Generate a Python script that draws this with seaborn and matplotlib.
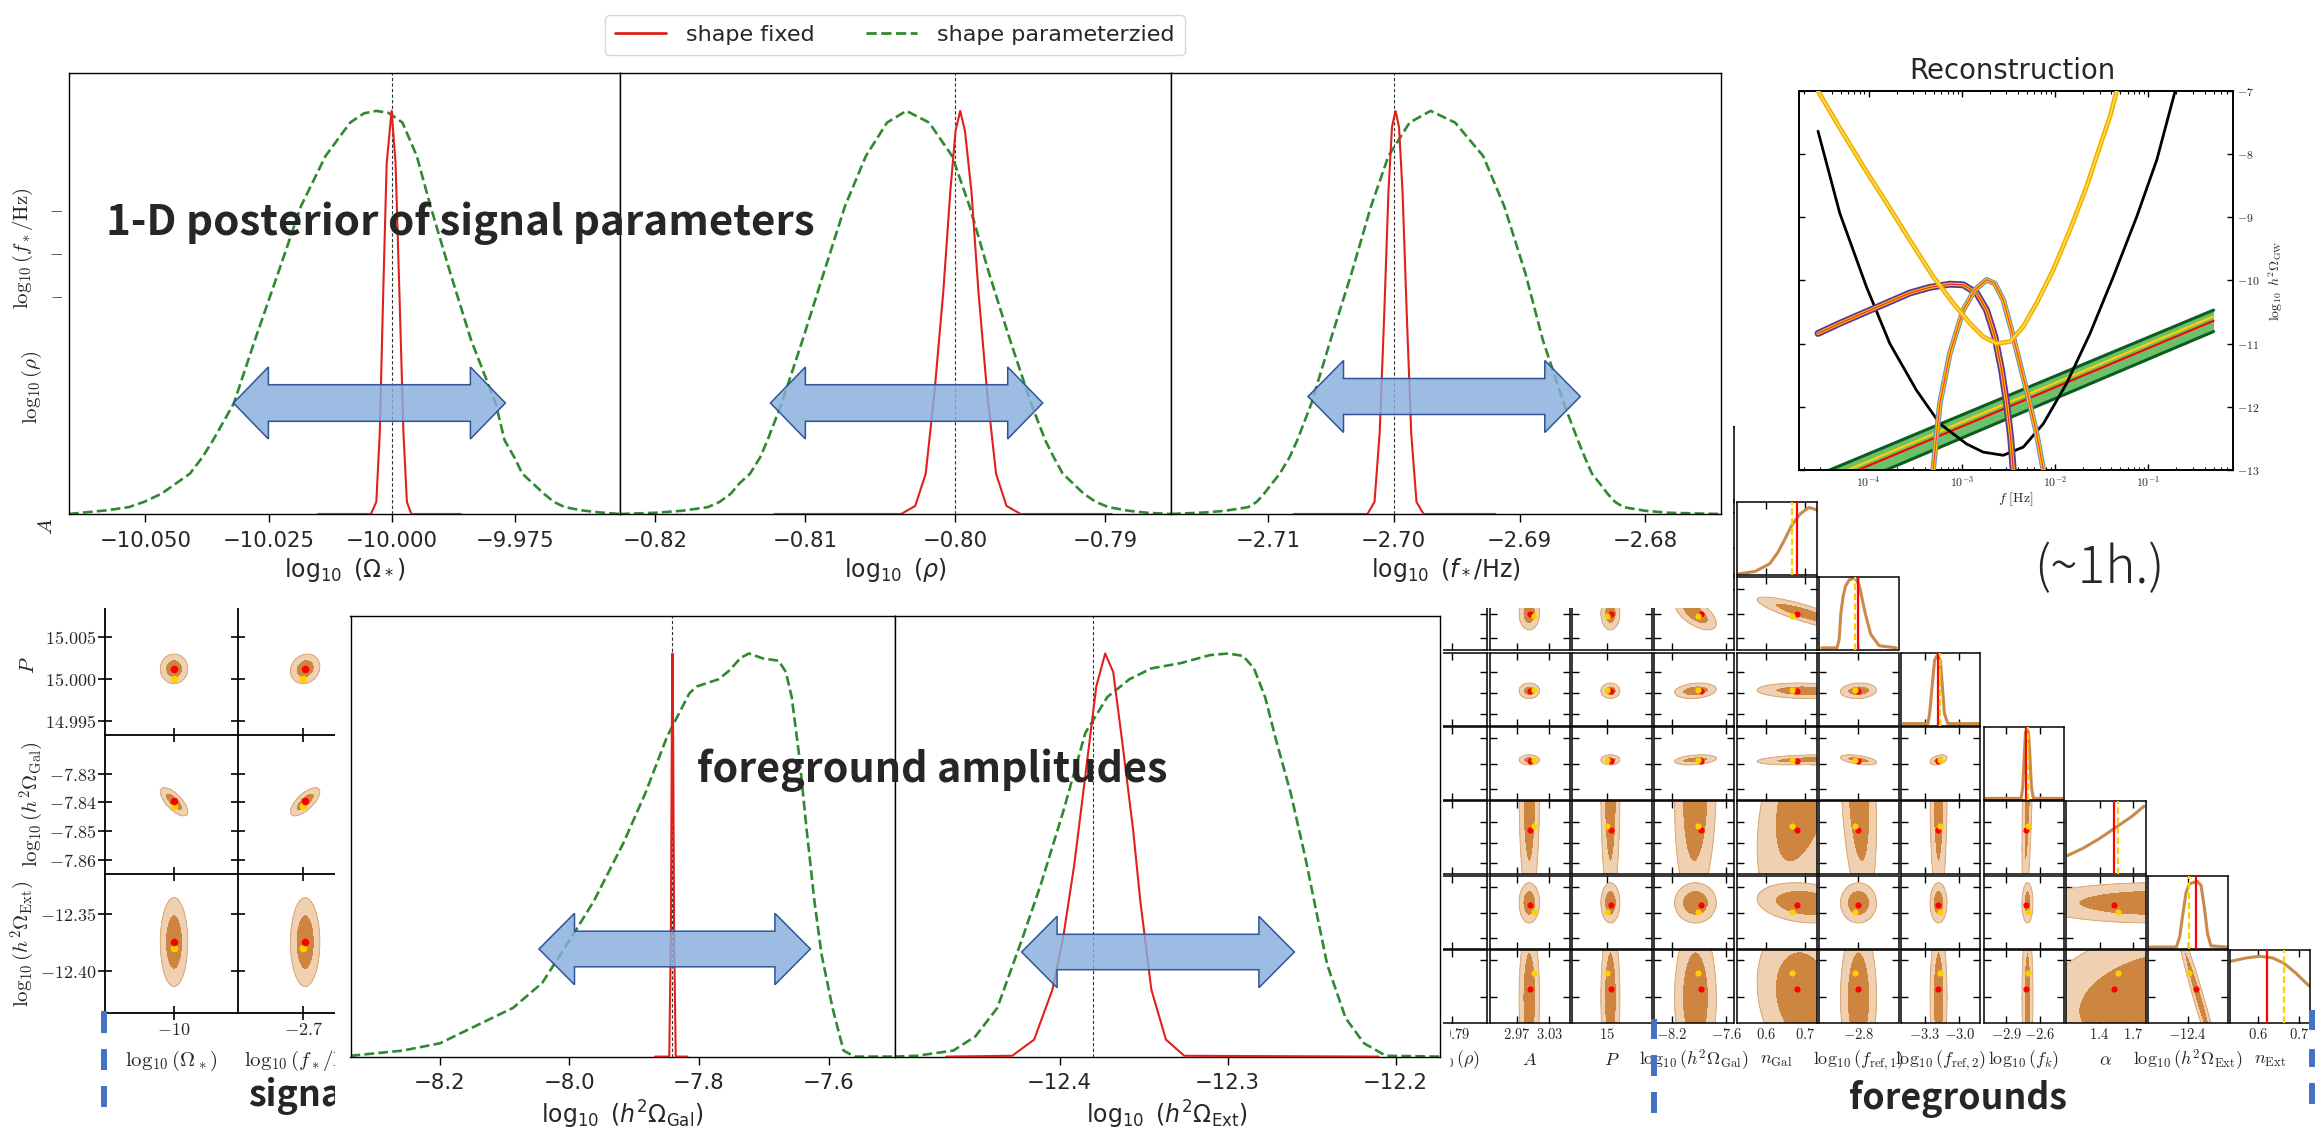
import numpy as np
import matplotlib
matplotlib.use("Agg")
import matplotlib.pyplot as plt
import seaborn as sns
from matplotlib.patches import Rectangle, Polygon
from matplotlib.lines import Line2D
from matplotlib.ticker import LogLocator, FuncFormatter, NullFormatter

# ============================ DATA ============================
# ---- top row: 1-D posteriors of the signal parameters (peak normalised) ----
omega_ticks = [-10.050, -10.025, -10.000, -9.975]
omega_xlim = (-10.0655, -9.9538)
omega_true = -10.0
omega_fixed_x = [-10.0150, -10.0043, -10.0032, -10.0025, -10.0018, -10.0011, -10.0001,
                 -9.9993, -9.9984, -9.9977, -9.9970, -9.9961, -9.9861]
omega_fixed_y = [0, 0, 0.03, 0.2, 0.55, 0.87, 1.0, 0.87, 0.5, 0.2, 0.03, 0, 0]
omega_param_x = [-10.0655, -10.0623, -10.0579, -10.0534, -10.0503, -10.0468, -10.0410, -10.0385,
                 -10.0363, -10.0321, -10.0278, -10.0231, -10.0185, -10.0135, -10.0085, -10.0057,
                 -10.0032, -10.0007, -9.9979, -9.9950, -9.9922, -9.9882, -9.9840, -9.9790,
                 -9.9772, -9.9752, -9.9736, -9.9692, -9.9672, -9.9650, -9.9615, -9.9580, -9.9538]
omega_param_y = [0.000, 0.004, 0.009, 0.017, 0.030, 0.050, 0.100, 0.140, 0.183, 0.274, 0.432,
                 0.598, 0.763, 0.888, 0.971, 0.994, 1.000, 0.995, 0.971, 0.888, 0.763, 0.598,
                 0.432, 0.274, 0.183, 0.140, 0.100, 0.050, 0.030, 0.017, 0.009, 0.004, 0.000]

rho_ticks = [-0.82, -0.81, -0.80, -0.79]
rho_xlim = (-0.82234, -0.78559)
rho_true = -0.80
rho_fixed_x = [-0.81203, -0.80359, -0.80265, -0.80195, -0.80137, -0.80078, -0.80031, -0.79996,
               -0.79965, -0.79933, -0.79890, -0.79843, -0.79785, -0.79726, -0.79656, -0.79562,
               -0.78953]
rho_fixed_y = [0, 0, 0.02, 0.1, 0.3, 0.55, 0.8, 0.95, 1.0, 0.95, 0.8, 0.55, 0.3, 0.1, 0.02, 0, 0]
rho_param_x = [-0.82234, -0.82000, -0.81820, -0.81648, -0.81570, -0.81496, -0.81440, -0.81367,
               -0.81300, -0.81250, -0.81156, -0.81016, -0.80875, -0.80734, -0.80594, -0.80453,
               -0.80324, -0.80172, -0.80019, -0.79902, -0.79773, -0.79633, -0.79492, -0.79398,
               -0.79340, -0.79281, -0.79210, -0.79140, -0.79060, -0.78976, -0.78840, -0.78718,
               -0.78559]
rho_param_y = [0.0, 0.003, 0.008, 0.017, 0.030, 0.050, 0.075, 0.100, 0.140, 0.183, 0.274, 0.432,
               0.598, 0.763, 0.888, 0.971, 1.0, 0.971, 0.888, 0.763, 0.598, 0.432, 0.274, 0.183,
               0.140, 0.100, 0.075, 0.050, 0.030, 0.017, 0.008, 0.003, 0.0]

fstar_ticks = [-2.71, -2.70, -2.69, -2.68]
fstar_xlim = (-2.71771, -2.67398)
fstar_true = -2.70
fstar_fixed_x = [-2.70795, -2.70209, -2.70153, -2.70112, -2.70075, -2.70042, -2.70014, -2.69986,
                 -2.69958, -2.69930, -2.69897, -2.69861, -2.69819, -2.69763, -2.69191]
fstar_fixed_y = [0, 0, 0.03, 0.2, 0.5, 0.8, 0.96, 1.0, 0.96, 0.8, 0.5, 0.2, 0.03, 0, 0]
fstar_param_x = [-2.71771, -2.71492, -2.71340, -2.71157, -2.71090, -2.71032, -2.70970, -2.70906,
                 -2.70830, -2.70767, -2.70655, -2.70502, -2.70335, -2.70181, -2.70042, -2.69874,
                 -2.69707, -2.69512, -2.69289, -2.69121, -2.68954, -2.68815, -2.68647, -2.68536,
                 -2.68480, -2.68424, -2.68360, -2.68299, -2.68240, -2.68173, -2.68000, -2.67811,
                 -2.67398]
fstar_param_y = [0.0, 0.004, 0.008, 0.017, 0.030, 0.050, 0.075, 0.100, 0.140, 0.183, 0.274,
                 0.432, 0.598, 0.763, 0.888, 0.971, 1.0, 0.971, 0.888, 0.763, 0.598, 0.432,
                 0.274, 0.183, 0.140, 0.100, 0.075, 0.050, 0.030, 0.017, 0.008, 0.003, 0.0]

# ---- bottom middle: foreground amplitudes ----
gal_ticks = [-8.2, -8.0, -7.8, -7.6]
gal_xlim = (-8.338, -7.498)
gal_true = -7.841
gal_fixed_x = [-7.868, -7.846, -7.8435, -7.842, -7.841, -7.840, -7.8385, -7.836, -7.818]
gal_fixed_y = [0, 0, 0.3, 0.8, 1.0, 0.8, 0.3, 0, 0]
gal_param_x = [-8.338, -8.257, -8.200, -8.087, -8.042, -7.996, -7.962, -7.917, -7.883, -7.849,
               -7.815, -7.804, -7.770, -7.753, -7.736, -7.723, -7.702, -7.677, -7.666, -7.657,
               -7.645, -7.634, -7.622, -7.611, -7.594, -7.577, -7.560, -7.498]
gal_param_y = [0.002, 0.015, 0.033, 0.121, 0.183, 0.298, 0.387, 0.529, 0.653, 0.795, 0.901,
               0.918, 0.936, 0.958, 0.989, 1.000, 0.988, 0.982, 0.954, 0.892, 0.741, 0.564,
               0.387, 0.254, 0.121, 0.015, 0.0, 0.0]

ext_ticks = [-12.4, -12.3, -12.2]
ext_xlim = (-12.4982, -12.1738)
ext_true = -12.38
ext_fixed_x = [-12.4676, -12.4283, -12.4152, -12.4043, -12.3978, -12.3913, -12.3847, -12.3782,
               -12.3729, -12.3681, -12.3629, -12.3563, -12.3520, -12.3454, -12.3367, -12.3258,
               -12.2101]
ext_fixed_y = [0, 0.002, 0.042, 0.166, 0.298, 0.476, 0.697, 0.918, 1.0, 0.954, 0.786, 0.564,
               0.387, 0.166, 0.042, 0.002, 0]
ext_param_x = [-12.4982, -12.4851, -12.4633, -12.4502, -12.4371, -12.4218, -12.4109, -12.3978,
               -12.3847, -12.3716, -12.3585, -12.3454, -12.3280, -12.3105, -12.2996, -12.2908,
               -12.2843, -12.2777, -12.2712, -12.2624, -12.2537, -12.2472, -12.2407, -12.2297,
               -12.2188, -12.2057, -12.1738]
ext_param_y = [0.0, 0.002, 0.015, 0.050, 0.121, 0.298, 0.431, 0.609, 0.803, 0.892, 0.936, 0.963,
               0.976, 0.996, 1.0, 0.994, 0.963, 0.892, 0.786, 0.653, 0.493, 0.360, 0.228, 0.095,
               0.033, 0.002, 0.0]

legend_labels = ["shape fixed", "shape parameterzied"]

# ---- reconstruction (log10 f [Hz], log10 h^2 Omega_GW) ----
recon_xlim = (1.8e-5, 0.8)
recon_ylim = (-13, -7)
sens_logf = [-4.544, -4.311, -4.025, -3.774, -3.488, -3.237, -2.951, -2.772, -2.557, -2.342,
             -2.127, -1.877, -1.626, -1.376, -1.125, -0.910, -0.713]
sens_logO = [-7.636, -8.933, -10.10, -11.0, -11.74, -12.27, -12.59, -12.72, -12.77, -12.64,
             -12.27, -11.63, -10.84, -9.94, -8.99, -8.09, -7.0]
u_logf = [-4.544, -4.311, -4.061, -3.810, -3.560, -3.309, -3.094, -2.915, -2.772, -2.629,
          -2.485, -2.342, -2.199, -2.020, -1.841, -1.662, -1.519, -1.411, -1.340]
u_logO = [-7.0, -7.583, -8.19, -8.77, -9.36, -9.94, -10.36, -10.68, -10.89, -11.0, -10.97,
          -10.73, -10.36, -9.83, -9.20, -8.51, -7.87, -7.40, -7.0]
galfg_logf = [-4.544, -4.311, -4.061, -3.810, -3.560, -3.345, -3.130, -2.987, -2.843, -2.736,
              -2.647, -2.575, -2.521, -2.478, -2.450]
galfg_logO = [-10.84, -10.68, -10.52, -10.36, -10.20, -10.11, -10.06, -10.07, -10.20, -10.47,
              -10.89, -11.42, -11.95, -12.48, -13.0]
sig_logf = [-3.309, -3.237, -3.130, -2.987, -2.861, -2.736, -2.647, -2.557, -2.468, -2.378,
            -2.289, -2.199, -2.127]
sig_logO = [-13.0, -11.95, -11.16, -10.47, -10.15, -9.99, -10.05, -10.31, -10.79, -11.32,
            -11.85, -12.43, -13.0]
extfg_logf = [-4.544, -0.301]
extfg_hi = [-13.08, -10.47]
extfg_lo = [-13.46, -10.81]
extfg_mid = [-13.27, -10.64]
extfg_yel = [-13.20, -10.57]

# ---- left corner fragment (signal vs foreground amplitudes) ----
lc_lo = {"Omega": -10.0519, "fstar": -2.7196, "P": 14.9933, "Gal": -7.8649, "Ext": -12.4371}
lc_hi = {"Omega": -9.9519, "fstar": -2.6796, "P": 15.0099, "Gal": -7.8166, "Ext": -12.3143}
lc_fstar_row = (-2.7152, -2.6832)
lc_mean = {"Omega": -10.0, "fstar": -2.6994, "P": 15.0012, "Gal": -7.8398, "Ext": -12.3745}
lc_sigma = {"Omega": 0.0042, "fstar": 0.0018, "P": 0.00072, "Gal": 0.0020, "Ext": 0.016}
lc_corr = {("Omega", "Gal"): -0.7, ("fstar", "Gal"): 0.7, ("fstar", "P"): 0.15}
lc_red = {"Omega": -10.0, "fstar": -2.6994, "P": 15.00117, "Gal": -7.8396, "Ext": -12.3743}
lc_yellow = {"Omega": -10.0, "fstar": -2.7001, "P": 15.000, "Gal": -7.8414, "Ext": -12.3796}
lc_yticks = {"fstar": [-2.71, -2.70, -2.69], "P": [14.995, 15.000, 15.005],
             "Gal": [-7.86, -7.85, -7.84, -7.83], "Ext": [-12.40, -12.35]}
lc_yfmt = {"fstar": "{:.2f}", "P": "{:.3f}", "Gal": "{:.2f}", "Ext": "{:.2f}"}
lc_xticks = {"Omega": [-10], "fstar": [-2.7]}
lc_labels = {"Omega": r"$\log_{10}(\Omega_*)$", "fstar": r"$\log_{10}(f_*/{\rm Hz})$",
             "rho": r"$\log_{10}(\rho)$", "A": r"$A$", "P": r"$P$",
             "Gal": r"$\log_{10}(h^2\Omega_{\rm Gal})$", "Ext": r"$\log_{10}(h^2\Omega_{\rm Ext})$"}

# ---- foreground corner plot ----
fg_names = ["rho", "A", "P", "Gal", "nGal", "fref1", "fref2", "fk", "alpha", "Ext", "nExt"]
fg_labels = [r"$\log_{10}(\rho)$", r"$A$", r"$P$", r"$\log_{10}(h^2\Omega_{\rm Gal})$",
             r"$n_{\rm Gal}$", r"$\log_{10}(f_{{\rm ref},1})$", r"$\log_{10}(f_{{\rm ref},2})$",
             r"$\log_{10}(f_k)$", r"$\alpha$", r"$\log_{10}(h^2\Omega_{\rm Ext})$", r"$n_{\rm Ext}$"]
fg_lo = [-0.8176, 2.9188, 14.987, -8.40, 0.5244, -3.10, -3.51, -3.105, 1.098, -12.542, 0.5321]
fg_hi = [-0.7676, 3.0688, 15.017, -7.516, 0.7295, -2.50, -2.816, -2.39, 1.807, -12.257, 0.7264]
fg_mean = [None, 2.9925, 15.0014, -7.942, 0.700, -2.80, -3.18, -2.712, 1.90, -12.362, 0.60]
fg_sigma = [None, 0.0078, 0.00145, 0.094, 0.050, 0.055, 0.030, 0.020, 0.45, 0.032, 0.08]
fg_red = [None, 2.994, 15.0015, -7.880, 0.679, -2.806, -3.186, -2.724, 1.525, -12.371, 0.6225]
fg_yellow = [None, 3.001, 15.000, -7.909, 0.666, -2.824, -3.171, -2.710, 1.560, -12.397, 0.664]
fg_xticks = [[-0.79], [2.97, 3.03], [15], [-8.2, -7.6], [0.6, 0.7], [-2.8], [-3.3, -3.0],
             [-2.9, -2.6], [1.4, 1.7], [-12.4], [0.6, 0.7]]
fg_xticklabels = [["-0.79"], ["2.97", "3.03"], ["15"], ["-8.2", "-7.6"], ["0.6", "0.7"],
                  ["-2.8"], ["-3.3", "-3.0"], ["-2.9", "-2.6"], ["1.4", "1.7"], ["-12.4"],
                  ["0.6", "0.7"]]
fg_yticks = [[], [], [], [-8.2, -7.6], [0.6, 0.7], [-3.0, -2.8, -2.6], [-3.4, -3.2, -3.0],
             [-3.0, -2.75, -2.5], [1.2, 1.4, 1.6], [-12.5, -12.4, -12.3], [0.6, 0.7]]
fg_corr = {("Gal", "fref1"): -0.6, ("nGal", "fref1"): -0.85, ("Gal", "fref2"): 0.2,
           ("nGal", "fref2"): -0.1, ("fref1", "fref2"): 0.1, ("Gal", "fk"): 0.3,
           ("nGal", "fk"): 0.3, ("fref1", "fk"): -0.5, ("fref2", "fk"): 0.4,
           ("Gal", "alpha"): 0.1, ("nGal", "alpha"): 0.5, ("fref1", "alpha"): -0.3,
           ("fk", "alpha"): 0.5, ("nGal", "Ext"): -0.2, ("Ext", "nExt"): -0.97,
           ("nGal", "nExt"): -0.2, ("alpha", "nExt"): 0.3}
fg_diag_x = {
    "nGal": [0.529, 0.572, 0.609, 0.630, 0.648, 0.666, 0.688, 0.710, 0.729],
    "fref1": [-3.075, -2.961, -2.945, -2.932, -2.915, -2.898, -2.870, -2.835, -2.815, -2.7925,
              -2.7505, -2.7085, -2.645, -2.518],
    "fref2": [-3.486, -3.272, -3.257, -3.234, -3.214, -3.191, -3.165, -3.148, -3.129, -3.100,
              -2.814],
    "fk": [-3.092, -2.768, -2.754, -2.739, -2.730, -2.718, -2.703, -2.692, -2.677, -2.659,
           -2.401],
    "alpha": [1.114, 1.254, 1.400, 1.546, 1.691, 1.793],
    "Ext": [-12.535, -12.441, -12.429, -12.418, -12.406, -12.394, -12.377, -12.365, -12.353,
            -12.341, -12.330, -12.318, -12.259],
    "nExt": [0.536, 0.572, 0.604, 0.636, 0.664, 0.692, 0.724],
}
fg_diag_h = {
    "nGal": [0.014, 0.050, 0.155, 0.311, 0.496, 0.695, 0.856, 0.943, 0.912],
    "fref1": [0.03, 0.03, 0.15, 0.52, 0.75, 0.89, 0.98, 1.0, 0.98, 0.89, 0.52, 0.22, 0.06, 0.03],
    "fref2": [0.027, 0.027, 0.17, 0.577, 0.915, 0.982, 0.915, 0.577, 0.17, 0.027, 0.027],
    "fk": [0.023, 0.023, 0.18, 0.676, 0.946, 0.982, 0.946, 0.676, 0.18, 0.023, 0.023],
    "alpha": [0.257, 0.36, 0.496, 0.653, 0.81, 0.946],
    "Ext": [0.027, 0.027, 0.17, 0.485, 0.798, 0.91, 0.933, 0.942, 0.888, 0.573, 0.215, 0.044,
            0.027],
    "nExt": [0.865, 0.909, 0.932, 0.909, 0.832, 0.697, 0.518],
}

# ============================ STYLE ============================
sns.set_style("white")
plt.rcParams["font.family"] = ["DejaVu Sans"]
plt.rcParams["mathtext.fontset"] = "cm"
plt.rcParams["axes.unicode_minus"] = True

RED = "#e0201c"
GREEN = "#2f8a2f"
LIGHT = "#efd0b0"
DARK = "#cd853f"
EDGE = "#dba878"
CURVE = "#c98a4c"
BLUE_MARK = "#4472c4"
JP = ["Noto Sans CJK JP", "DejaVu Sans"]

W, H = 2323, 1139
fig = plt.figure(figsize=(W / 100, H / 100), dpi=100)
fig.patch.set_facecolor("white")
renderer = fig.canvas.get_renderer()


def rect(x0, y0, x1, y1):
    return [x0 / W, 1 - y1 / H, (x1 - x0) / W, (y1 - y0) / H]


def minus(s):
    return s.replace("-", "\u2212")


def blob(ax, mx, sx, my, sy, r, xlim, ylim):
    gx = np.linspace(xlim[0], xlim[1], 220)
    gy = np.linspace(ylim[0], ylim[1], 220)
    X, Y = np.meshgrid(gx, gy)
    u = (X - mx) / sx
    v = (Y - my) / sy
    d2 = (u * u - 2 * r * u * v + v * v) / (1 - r * r)
    lev1, lev2 = 1.52 ** 2, 2.45 ** 2
    if d2.min() < lev2:
        ax.contourf(X, Y, d2, levels=[-1, lev1, lev2], colors=[DARK, LIGHT], zorder=1)
        if d2.max() > lev2:
            ax.contour(X, Y, d2, levels=[lev2], colors=[EDGE], linewidths=0.7, zorder=1)


# ============================ TOP / BOTTOM POSTERIOR PANELS ============================
def posterior_panel(box, fx, fy, px, py, truth, xlim, ticks, fmt, label):
    ax = fig.add_axes(rect(*box))
    ax.set_zorder(3)
    ax.set_facecolor("white")
    ax.axvline(truth, color="#333333", lw=0.8, ls=(0, (3, 2)), zorder=1)
    sns.lineplot(x=px, y=py, ax=ax, color=GREEN, lw=1.9, linestyle="--", sort=False,
                 estimator=None, zorder=2)
    sns.lineplot(x=fx, y=fy, ax=ax, color=RED, lw=1.5, sort=False, estimator=None, zorder=3)
    ax.set_xlim(*xlim)
    ax.set_ylim(0, 1.094)
    ax.set_yticks([])
    ax.set_xticks(ticks, labels=[minus(fmt.format(t)) for t in ticks])
    ax.tick_params(axis="x", bottom=True, direction="out", length=6, width=1, labelsize=15.3,
                   pad=6, color="black")
    ax.set_xlabel(label, fontsize=17, labelpad=4)
    ax.xaxis.label.set_math_fontfamily("dejavusans")
    for s in ax.spines.values():
        s.set_visible(True)
        s.set_color("black")
        s.set_linewidth(1.0)
    return ax


posterior_panel((69, 73, 620, 514), omega_fixed_x, omega_fixed_y, omega_param_x, omega_param_y,
                omega_true, omega_xlim, omega_ticks, "{:.3f}", r"$\log_{10}\ (\Omega_*)$")
posterior_panel((620, 73, 1171, 514), rho_fixed_x, rho_fixed_y, rho_param_x, rho_param_y,
                rho_true, rho_xlim, rho_ticks, "{:.2f}", r"$\log_{10}\ (\rho)$")
posterior_panel((1171, 73, 1721, 514), fstar_fixed_x, fstar_fixed_y, fstar_param_x,
                fstar_param_y, fstar_true, fstar_xlim, fstar_ticks, "{:.2f}",
                r"$\log_{10}\ (f_*/\mathrm{Hz})$")
posterior_panel((350.5, 615.6, 894.7, 1056.6), gal_fixed_x, gal_fixed_y, gal_param_x,
                gal_param_y, gal_true, gal_xlim, gal_ticks, "{:.1f}",
                r"$\log_{10}\ (h^2\Omega_{\rm Gal})$")
posterior_panel((894.7, 615.6, 1439.6, 1056.6), ext_fixed_x, ext_fixed_y, ext_param_x,
                ext_param_y, ext_true, ext_xlim, ext_ticks, "{:.1f}",
                r"$\log_{10}\ (h^2\Omega_{\rm Ext})$")

handles = [Line2D([], [], color=RED, lw=2.0), Line2D([], [], color=GREEN, lw=2.0, ls="--")]
leg = fig.legend(handles, legend_labels, loc="upper center", bbox_to_anchor=(895 / W, 1 - 4 / H),
                 ncol=2, fontsize=16, frameon=True, handlelength=2.3, handletextpad=0.9,
                 columnspacing=2.3, borderpad=0.45, fancybox=True, edgecolor="0.8")
leg.set_zorder(6)

# ============================ RECONSTRUCTION ============================
axr = fig.add_axes(rect(1799.3, 91, 2232.6, 469.8))
axr.set_zorder(3)
axr.set_xscale("log")
f_ext = 10 ** np.array(extfg_logf)
axr.fill_between(f_ext, extfg_lo, extfg_hi, color="#6cc06a", lw=0, zorder=1)
for yy in (extfg_lo, extfg_hi):
    sns.lineplot(x=f_ext, y=yy, ax=axr, color="#0d5c1f", lw=2.2, sort=False, estimator=None,
                 zorder=2)
sns.lineplot(x=f_ext, y=extfg_yel, ax=axr, color="#ffd000", lw=1.6, sort=False, estimator=None,
             zorder=2)
sns.lineplot(x=f_ext, y=extfg_mid, ax=axr, color="#ff0000", lw=1.5, sort=False, estimator=None,
             zorder=2)
sns.lineplot(x=10 ** np.array(sens_logf), y=sens_logO, ax=axr, color="black", lw=2.0, sort=False,
             estimator=None, zorder=3)
f_gal = 10 ** np.array(galfg_logf)
sns.lineplot(x=f_gal, y=galfg_logO, ax=axr, color="#5b3a96", lw=5.0, sort=False, estimator=None,
             zorder=4)
sns.lineplot(x=f_gal, y=galfg_logO, ax=axr, color="#ffc000", lw=2.4, sort=False, estimator=None,
             zorder=4)
sns.lineplot(x=f_gal, y=galfg_logO, ax=axr, color="#ff2020", lw=0.8, sort=False, estimator=None,
             zorder=4)
f_sig = 10 ** np.array(sig_logf)
sns.lineplot(x=f_sig, y=sig_logO, ax=axr, color="#5a8fc8", lw=4.0, sort=False, estimator=None,
             zorder=5)
sns.lineplot(x=f_sig, y=sig_logO, ax=axr, color="#ffc000", lw=2.6, sort=False, estimator=None,
             zorder=5)
sns.lineplot(x=f_sig, y=sig_logO, ax=axr, color="#ff3030", lw=0.7, sort=False, estimator=None,
             zorder=5)
f_u = 10 ** np.array(u_logf)
sns.lineplot(x=f_u, y=u_logO, ax=axr, color="#f0b000", lw=3.4, sort=False, estimator=None,
             zorder=6)
sns.lineplot(x=f_u, y=u_logO, ax=axr, color="#ffdd55", lw=1.1, sort=False, estimator=None,
             zorder=6)
axr.set_xlim(*recon_xlim)
axr.set_ylim(*recon_ylim)
axr.set_yticks([-13, -12, -11, -10, -9, -8, -7])
axr.yaxis.set_major_formatter(FuncFormatter(lambda v, p: r"$%d$" % round(v)))
axr.xaxis.set_major_locator(LogLocator(base=10, numticks=12))
axr.xaxis.set_minor_locator(LogLocator(base=10, subs=np.arange(2, 10) * 1.0, numticks=30))
axr.xaxis.set_major_formatter(FuncFormatter(lambda v, p: r"$10^{%d}$" % round(np.log10(v))))
axr.xaxis.set_minor_formatter(NullFormatter())
axr.tick_params(which="both", direction="in", top=True, bottom=True, left=True, right=True,
                labelleft=False, labelright=True, labelsize=8.5, color="black")
axr.tick_params(which="major", length=4.5, width=1)
axr.tick_params(which="minor", length=2.5, width=0.8)
axr.yaxis.set_label_position("right")
axr.set_ylabel(r"$\log_{10}\ h^2\Omega_{\rm GW}$", fontsize=10)
axr.yaxis.set_label_coords((2276 - 1799.3) / 433.3, 0.5)
axr.yaxis.label.set_va("center")
axr.set_xlabel(r"$f\ [{\rm Hz}]$", fontsize=10)
axr.xaxis.set_label_coords(0.5, -(499 - 469.8) / 378.8)
axr.xaxis.label.set_va("center")
for s in axr.spines.values():
    s.set_visible(True)
    s.set_color("black")
    s.set_linewidth(1.4)

# ============================ LEFT CORNER FRAGMENT ============================
lc_cols = [("Omega", 105, 238), ("fstar", 238, 371)]
lc_rows = [("fstar", 179, 318, 23), ("rho", 318, 457, 32), ("A", 457, 596, 46),
           ("P", 596, 735, 28), ("Gal", 735, 874, 32), ("Ext", 874, 1013, 23)]
for rname, ry0, ry1, labx in lc_rows:
    lower = rname in ("P", "Gal", "Ext")
    cols = lc_cols if lower else lc_cols[:1]
    for k, (cname, cx0, cx1) in enumerate(cols):
        ax = fig.add_axes(rect(cx0, ry0, cx1, ry1))
        ax.set_zorder(1)
        ax.set_facecolor("none")
        ax.set_xlim(lc_lo[cname], lc_hi[cname])
        if rname == "fstar":
            ax.set_ylim(*lc_fstar_row)
        elif lower:
            ax.set_ylim(lc_lo[rname], lc_hi[rname])
        ax.set_xticks(lc_xticks[cname])
        if rname in lc_yticks:
            yt = lc_yticks[rname]
            ax.set_yticks(yt)
            ax.set_yticklabels(["$" + lc_yfmt[rname].format(t) + "$" for t in yt])
        else:
            ax.set_yticks([])
        if lower:
            r = lc_corr.get((cname, rname), 0.0)
            blob(ax, lc_mean[cname], lc_sigma[cname], lc_mean[rname], lc_sigma[rname], r,
                 (lc_lo[cname], lc_hi[cname]), (lc_lo[rname], lc_hi[rname]))
            sns.scatterplot(x=[lc_yellow[cname]], y=[lc_yellow[rname]], ax=ax, color="#ffd000",
                            s=30, linewidth=0, zorder=5, legend=False)
            sns.scatterplot(x=[lc_red[cname]], y=[lc_red[rname]], ax=ax, color="#ff0000",
                            s=30, linewidth=0, zorder=5, legend=False)
        ax.tick_params(which="both", direction="inout", length=10, width=1.2, left=True,
                       bottom=True, top=False, right=False, labelsize=13, pad=1,
                       labelleft=(k == 0), labelbottom=(rname == "Ext"), color="black")
        if rname == "Ext":
            ax.set_xticklabels(["$%g$" % t for t in lc_xticks[cname]])
            ax.set_xlabel(lc_labels[cname], fontsize=15)
            ax.xaxis.set_label_coords(0.5, -(1061 - 1013) / 139)
            ax.xaxis.label.set_va("center")
        if k == 0:
            ax.set_ylabel(lc_labels[rname], fontsize=15)
            ax.yaxis.set_label_coords((labx - 105) / 133, 0.5)
            ax.yaxis.label.set_va("center")
        for side in ("top", "right"):
            ax.spines[side].set_visible(False)
        for side in ("left", "bottom"):
            ax.spines[side].set_visible(True)
            ax.spines[side].set_color("black")
            ax.spines[side].set_linewidth(1.3)

# ============================ FOREGROUND CORNER ============================
fg_col_left = [1407.5, 1490, 1572, 1654, 1736.5, 1818.5, 1900.5, 1983.5, 2065.5, 2148, 2230]
fg_row_top = [None, None, None, 427, 502, 577, 652.5, 727, 801, 876, 950]
CW, CH = 80, 73
for i in range(3, 11):
    for j in range(0, i + 1):
        x0 = fg_col_left[j]
        y0 = fg_row_top[i]
        ax = fig.add_axes(rect(x0, y0, x0 + CW, y0 + CH))
        ax.set_zorder(1)
        ax.set_facecolor("white")
        ax.set_xlim(fg_lo[j], fg_hi[j])
        if i == j:
            ax.set_ylim(0, 1.02)
            ax.set_yticks([])
            name = fg_names[i]
            if name in fg_diag_x:
                sns.lineplot(x=fg_diag_x[name], y=fg_diag_h[name], ax=ax, color=CURVE, lw=2.2,
                             sort=False, estimator=None, zorder=2)
                ax.axvline(fg_red[i], color="#ff0000", lw=1.6, zorder=3)
                ax.axvline(fg_yellow[i], color="#ffd000", lw=1.6, ls=(0, (3, 1.5)), zorder=3)
        else:
            ax.set_ylim(fg_lo[i], fg_hi[i])
            ax.set_yticks(fg_yticks[i])
            if fg_mean[j] is not None:
                a, b = fg_names[j], fg_names[i]
                r = fg_corr.get((a, b), fg_corr.get((b, a), 0.0))
                blob(ax, fg_mean[j], fg_sigma[j], fg_mean[i], fg_sigma[i], r,
                     (fg_lo[j], fg_hi[j]), (fg_lo[i], fg_hi[i]))
                sns.scatterplot(x=[fg_red[j]], y=[fg_red[i]], ax=ax, color="#ff0000", s=20,
                                linewidth=0, zorder=5, legend=False)
                sns.scatterplot(x=[fg_yellow[j]], y=[fg_yellow[i]], ax=ax, color="#ffd000", s=20,
                                linewidth=0, zorder=5, legend=False)
        ax.set_xticks(fg_xticks[j])
        ax.tick_params(which="both", direction="in", top=True, bottom=True, left=True, right=True,
                       length=5, width=1, labelleft=False, labelbottom=(i == 10), labelsize=10.5,
                       pad=3, color="black")
        if i == 10:
            ax.set_xticklabels(["$" + s + "$" for s in fg_xticklabels[j]])
            ax.set_xlabel(fg_labels[j], fontsize=13)
            ax.xaxis.set_label_coords(0.5, -(1060 - 1023) / CH)
            ax.xaxis.label.set_va("center")
        for s in ax.spines.values():
            s.set_visible(True)
            s.set_color("black")
            s.set_linewidth(1.1)

# ============================ MASKS (layered screenshots) ============================
for (mx0, my0, mx1, my1) in [(62, 0, 1733, 608), (335, 594, 1443, 1139), (1443, 1026, 1450, 1139)]:
    fig.add_artist(Rectangle((mx0 / W, 1 - my1 / H), (mx1 - mx0) / W, (my1 - my0) / H,
                             transform=fig.transFigure, facecolor="white", edgecolor="none",
                             zorder=2))


# ============================ ANNOTATIONS ============================
def fit_text(x0, x1, ybase, s, z=5, size=None, **kw):
    t = fig.text(x0 / W, 1 - ybase / H, s, ha="left", va="baseline", fontsize=20, zorder=z, **kw)
    if size is None:
        w = t.get_window_extent(renderer).width
        size = 20 * (x1 - x0) / w
    t.set_fontsize(size)
    return size


fit_text(106, 816, 235, "1-D posterior of signal parameters", family=JP, weight="bold")
fit_text(697, 1168, 782, "foreground amplitudes", family=JP, weight="bold")
fs_fg = fit_text(1849, 2067, 1109, "foregrounds", family=JP, weight="bold")
fit_text(248, 400, 1106, "signals", z=1.5, size=fs_fg, family=JP, weight="bold")
fit_text(2034, 2164, 583, "(~1h.)", family=JP, weight="light")
fit_text(1909, 2115, 79, "Reconstruction", family=["DejaVu Sans"])


def double_arrow(xl, xr, yc, hh, sh, hl):
    pts = [(xl, yc), (xl + hl, yc - hh), (xl + hl, yc - sh), (xr - hl, yc - sh),
           (xr - hl, yc - hh), (xr, yc), (xr - hl, yc + hh), (xr - hl, yc + sh),
           (xl + hl, yc + sh), (xl + hl, yc + hh)]
    pts = [(px / W, 1 - py / H) for px, py in pts]
    fig.add_artist(Polygon(pts, closed=True, transform=fig.transFigure, facecolor="#88aedd",
                           alpha=0.82, edgecolor="none", zorder=5))
    fig.add_artist(Polygon(pts, closed=True, transform=fig.transFigure, facecolor="none",
                           edgecolor="#2f5597", lw=1.1, zorder=5))


double_arrow(233.4, 505.4, 403, 36, 18.3, 35)
double_arrow(770.4, 1042.7, 403, 36, 18.3, 35)
double_arrow(1308, 1580.3, 396.5, 36, 18, 35.5)
double_arrow(539, 810.4, 949, 35.7, 17.8, 35.5)
double_arrow(1021.6, 1294.4, 952, 35.7, 17.7, 35.5)

for bx0, bx1, segs in [(101, 106.5, [(1011, 1033), (1049, 1070), (1086, 1107)]),
                       (1651, 1657, [(1018.6, 1039), (1055, 1076), (1092, 1113)]),
                       (2309, 2314.5, [(1009.5, 1030), (1048.5, 1067), (1083, 1103.5)])]:
    for sy0, sy1 in segs:
        fig.add_artist(Rectangle((bx0 / W, 1 - sy1 / H), (bx1 - bx0) / W, (sy1 - sy0) / H,
                                 transform=fig.transFigure, facecolor=BLUE_MARK,
                                 edgecolor="none", zorder=6))

fig.savefig("out.png", dpi=100, facecolor="white")
